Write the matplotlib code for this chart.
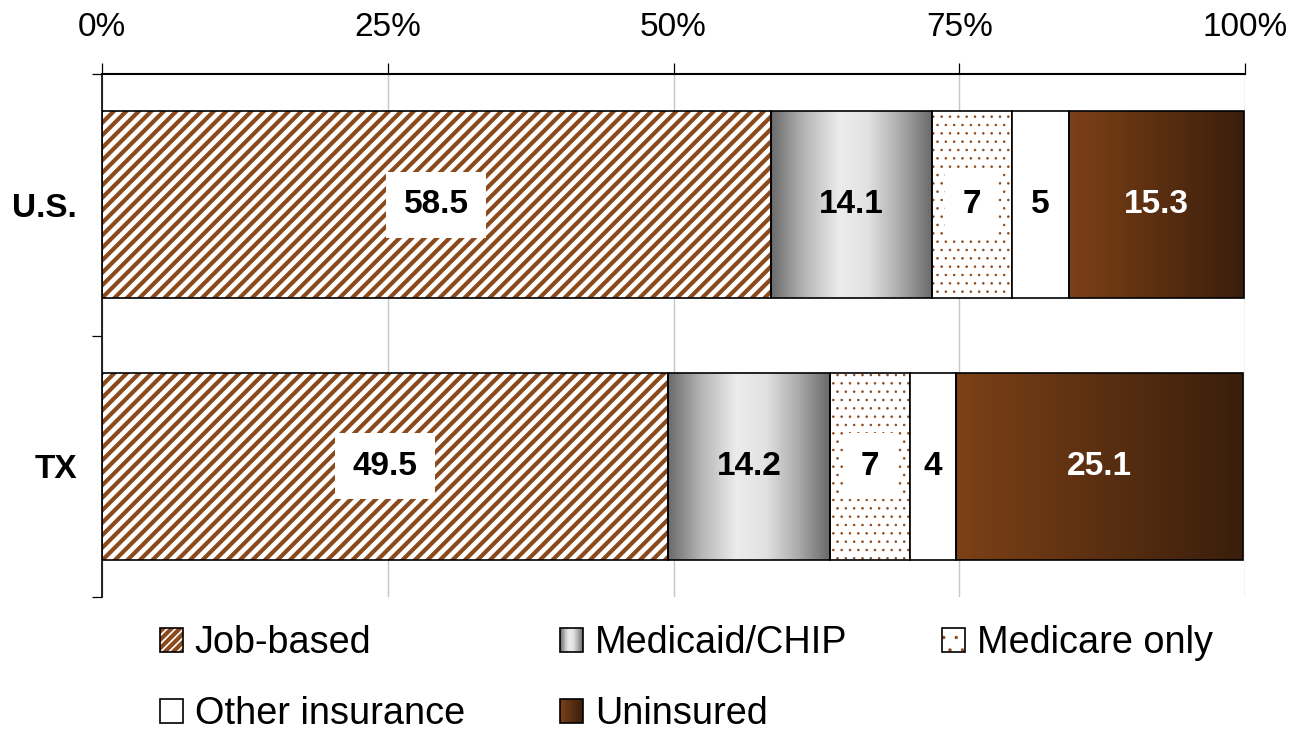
import numpy as np
import matplotlib
matplotlib.use('Agg')
import matplotlib.pyplot as plt
from matplotlib.colors import LinearSegmentedColormap
from matplotlib.patches import Rectangle, Patch
from matplotlib.legend_handler import HandlerBase

plt.rcParams['font.family'] = ['Liberation Sans', 'DejaVu Sans']
plt.rcParams['hatch.linewidth'] = 2.0

# coverage shares, percent
places = ['U.S.', 'TX']
job_based = [58.5, 49.5]
medicaid_chip = [14.1, 14.2]
medicare_only = [7, 7]
other_insurance = [5, 4]
uninsured = [15.3, 25.1]
series_names = ['Job-based', 'Medicaid/CHIP', 'Medicare only', 'Other insurance', 'Uninsured']
x_ticks = [0, 25, 50, 75, 100]
x_tick_labels = ['0%', '25%', '50%', '75%', '100%']

BROWN = '#8a4a1c'
gray_cmap = LinearSegmentedColormap.from_list(
    'gray_band', [(0, '#6a6a6a'), (0.2, '#b4b4b4'), (0.42, '#ececec'),
                  (0.6, '#e2e2e2'), (0.8, '#ababab'), (1, '#686868')])
brown_cmap = LinearSegmentedColormap.from_list('brown_band', ['#7c4117', '#3a1e0b'])
FS = 16
LEG_FS = 18.2
STRIPES = '////'
DOTS = '...'


def thin_hatch(artists, lw):
    for a in artists:
        if hasattr(a, 'set_hatch_linewidth'):
            a.set_hatch_linewidth(lw)


class GradientHandler(HandlerBase):
    def __init__(self, cmap):
        super().__init__()
        self.cmap = cmap

    def create_artists(self, legend, orig_handle, xdescent, ydescent,
                       width, height, fontsize, trans):
        n = 24
        arts = []
        for i in range(n):
            arts.append(Rectangle((-xdescent + width * i / n, -ydescent), width / n, height,
                                  facecolor=self.cmap((i + 0.5) / n), edgecolor='none',
                                  transform=trans))
        arts.append(Rectangle((-xdescent, -ydescent), width, height, fill=False,
                              edgecolor='black', lw=0.8, transform=trans))
        return arts


class HatchHandler(HandlerBase):
    def __init__(self, hatch, hatch_lw):
        super().__init__()
        self.hatch = hatch
        self.hatch_lw = hatch_lw

    def create_artists(self, legend, orig_handle, xdescent, ydescent,
                       width, height, fontsize, trans):
        r = Rectangle((-xdescent, -ydescent), width, height, facecolor='white',
                      edgecolor=BROWN, hatch=self.hatch, lw=0, transform=trans)
        thin_hatch([r], self.hatch_lw)
        f = Rectangle((-xdescent, -ydescent), width, height, fill=False,
                      edgecolor='black', lw=0.8, transform=trans)
        return [r, f]


fig = plt.figure(figsize=(1299 / 150, 733 / 150), dpi=150)
ax = fig.add_axes([102 / 1299, 1 - 597 / 733, 1143 / 1299, 523 / 733])

ypos = [1, 0]   # U.S. on top
bh = 0.715
grad = np.linspace(0, 1, 256).reshape(1, -1)


def gradient_bars(vals, left, cmap):
    bars = ax.barh(ypos, vals, left=left, height=bh, color='none',
                   edgecolor='black', lw=0.8, zorder=3)
    for b in bars:
        x0, y0 = b.get_x(), b.get_y()
        im = ax.imshow(grad, cmap=cmap, aspect='auto', zorder=2,
                       extent=[x0, x0 + b.get_width(), y0, y0 + b.get_height()])
        im.set_clip_path(b)


def labels(vals, left, color='black', boxed=False):
    for y, v, l in zip(ypos, vals, left):
        kw = {}
        if boxed:
            kw['bbox'] = dict(boxstyle='square,pad=0.52', facecolor='white', edgecolor='none')
        ax.text(l + v / 2, y, f'{v:g}', ha='center', va='center', fontsize=FS,
                fontweight='bold', color=color, zorder=5, **kw)


left = np.zeros(2)
# job-based: brown diagonal stripes
bars = ax.barh(ypos, job_based, left=left, height=bh, color='white', edgecolor=BROWN,
               hatch=STRIPES, lw=0, zorder=2)
thin_hatch(bars, 2.0)
ax.barh(ypos, job_based, left=left, height=bh, fill=False, edgecolor='black', lw=0.8, zorder=3)
labels(job_based, left, boxed=True)
left = left + job_based

gradient_bars(medicaid_chip, left, gray_cmap)
labels(medicaid_chip, left)
left = left + medicaid_chip

# medicare only: sparse brown dots
bars = ax.barh(ypos, medicare_only, left=left, height=bh, color='white', edgecolor=BROWN,
               hatch=DOTS, lw=0, zorder=2)
thin_hatch(bars, 0.4)
ax.barh(ypos, medicare_only, left=left, height=bh, fill=False, edgecolor='black', lw=0.8, zorder=3)
labels(medicare_only, left, boxed=True)
left = left + medicare_only

ax.barh(ypos, other_insurance, left=left, height=bh, color='white', edgecolor='black',
        lw=0.8, zorder=3)
labels(other_insurance, left)
left = left + other_insurance

gradient_bars(uninsured, left, brown_cmap)
labels(uninsured, left, color='white')

ax.set_xlim(0, 100)
ax.set_ylim(-0.5, 1.5)

ax.xaxis.tick_top()
ax.set_xticks(x_ticks)
ax.set_xticklabels(x_tick_labels, fontsize=FS)
ax.tick_params(axis='x', length=5.3, width=0.6, pad=9.5, direction='out')
ax.grid(axis='x', color='#c8c8c8', lw=0.7, zorder=0)
ax.set_axisbelow(True)

ax.set_yticks(ypos)
ax.set_yticklabels(places, fontsize=FS, fontweight='bold')
ax.tick_params(axis='y', which='major', length=0, pad=12)
ax.set_yticks([-0.5, 0.5, 1.5], minor=True)
ax.tick_params(axis='y', which='minor', length=4.8, width=0.6, direction='out')

for s in ['right', 'bottom']:
    ax.spines[s].set_visible(False)
ax.spines['top'].set_linewidth(1.0)
ax.spines['left'].set_linewidth(0.8)

# legend, filled row by row
h_job = Patch(facecolor='white')
h_mcr = Patch(facecolor='white')
h_med = Patch(facecolor='white')
h_oth = Patch(facecolor='white', edgecolor='black', lw=0.8)
h_uni = Patch(facecolor='white')
handles = [h_job, h_oth, h_med, h_uni, h_mcr]
names = [series_names[0], series_names[3], series_names[1], series_names[4], series_names[2]]
fig.legend(handles, names, loc='upper left', bbox_to_anchor=(160 / 1299, 1 - 625 / 733),
           ncol=3, frameon=False, fontsize=LEG_FS, handlelength=0.6, handleheight=0.6,
           handletextpad=0.32, columnspacing=2.5, labelspacing=0.93, borderpad=0,
           borderaxespad=0,
           handler_map={h_med: GradientHandler(gray_cmap), h_uni: GradientHandler(brown_cmap),
                        h_job: HatchHandler('//////', 2.0),
                        h_mcr: HatchHandler('..', 0.4)})

fig.savefig('out.png', dpi=150)
